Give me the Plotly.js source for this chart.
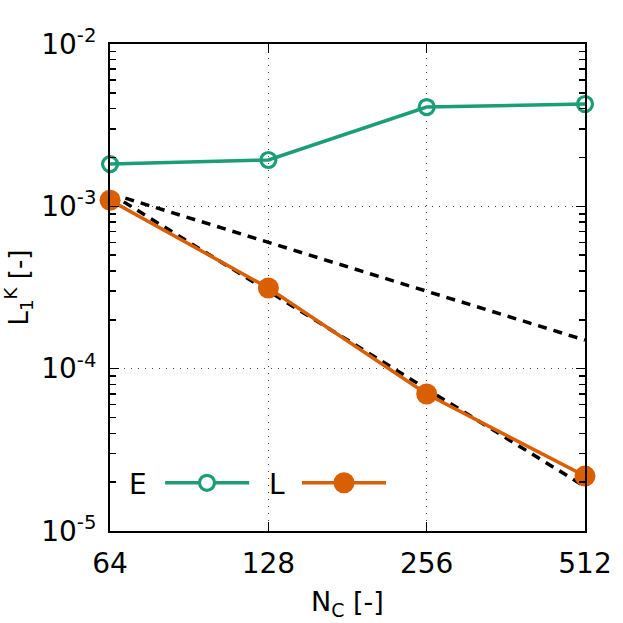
<!DOCTYPE html>
<html><head><meta charset="utf-8">
<script src="https://cdn.plot.ly/plotly-3.0.1.min.js"></script>
<style>html,body{margin:0;padding:0;background:#fff}#chart{width:623px;height:623px}</style>
</head><body><div id="chart"></div>
<script>
const Nc = [64, 128, 256, 512];
const tickLabels = ['64', '128', '256', '512'];
const yTickVals = [1e-5, 1e-4, 1e-3, 1e-2];
const yTickLabels = ['10<sup>-5</sup>', '10<sup>-4</sup>', '10<sup>-3</sup>', '10<sup>-2</sup>'];
const errE = [1.82e-3, 1.93e-3, 4.09e-3, 4.27e-3];
const errL = [1.09e-3, 3.14e-4, 6.98e-5, 2.18e-5];
const refX = [64, 512];
const refFirst = [1.2e-3, 1.5e-4];
const refSecond = [1.2e-3, 1.875e-5];
const seriesNames = ['E', 'L'];

const green = '#1b9e77', orange = '#d95f02';
const font = 'DejaVu Sans, sans-serif';

const traces = [
  {x: refX, y: refFirst, mode: 'lines', line: {color: '#000', width: 3.5, dash: '9px,7px'}, showlegend: false, hoverinfo: 'skip'},
  {x: refX, y: refSecond, mode: 'lines', line: {color: '#000', width: 3.5, dash: '9px,7px'}, showlegend: false, hoverinfo: 'skip'},
  {x: Nc, y: errE, name: seriesNames[0], mode: 'lines+markers', line: {color: green, width: 3.5},
   marker: {symbol: 'circle-open', size: 15, color: green, line: {width: 3.2, color: green}}, showlegend: false, cliponaxis: false},
  {x: Nc, y: errL, name: seriesNames[1], mode: 'lines+markers', line: {color: orange, width: 3.5},
   marker: {symbol: 'circle', size: 21, color: orange}, showlegend: false, cliponaxis: false}
];

// hand-built gnuplot-style legend (label left of sample)
const ly = 0.099;
const px = 1/475, py = 1/487;
const shapes = [
  {type: 'line', xref: 'paper', yref: 'paper', x0: 0.116, x1: 0.293, y0: ly, y1: ly, line: {color: green, width: 3.5}},
  {type: 'circle', xref: 'paper', yref: 'paper', x0: 0.2042 - 7.5*px, x1: 0.2042 + 7.5*px, y0: ly - 7.5*py, y1: ly + 7.5*py,
   line: {color: green, width: 3.2}, fillcolor: '#fff'},
  {type: 'line', xref: 'paper', yref: 'paper', x0: 0.404, x1: 0.581, y0: ly, y1: ly, line: {color: orange, width: 3.5}},
  {type: 'circle', xref: 'paper', yref: 'paper', x0: 0.4926 - 10.5*px, x1: 0.4926 + 10.5*px, y0: ly - 10.5*py, y1: ly + 10.5*py,
   line: {color: orange, width: 0}, fillcolor: orange}
];
const annotations = [
  {xref: 'paper', yref: 'paper', x: 0.059, y: ly - 0.004, xanchor: 'center', yanchor: 'middle', text: seriesNames[0], showarrow: false, font: {family: font, size: 28, color: '#000'}},
  {xref: 'paper', yref: 'paper', x: 0.352, y: ly - 0.004, xanchor: 'center', yanchor: 'middle', text: seriesNames[1], showarrow: false, font: {family: font, size: 28, color: '#000'}}
];

const layout = {
  width: 623, height: 623,
  margin: {l: 110, r: 38, t: 44, b: 92},
  paper_bgcolor: '#fff', plot_bgcolor: '#fff',
  font: {family: font, size: 28, color: '#000'},
  showlegend: false,
  shapes: shapes,
  annotations: annotations,
  xaxis: {
    type: 'log', range: [Math.log10(63.98), Math.log10(512.05)],
    tickvals: Nc, ticktext: tickLabels,
    ticks: 'inside', ticklen: 9, tickwidth: 1.5, tickcolor: '#000',
    showline: true, linecolor: '#000', linewidth: 2, mirror: 'allticks',
    showgrid: true, gridcolor: '#444', gridwidth: 1, griddash: '1px,6px',
    zeroline: false, ticklabelstandoff: 6,
    tickfont: {family: font, size: 28},
    title: {text: 'N<sub>C</sub> [-]', font: {family: font, size: 27}, standoff: 14}
  },
  yaxis: {
    type: 'log', range: [-5, -2],
    tickvals: yTickVals, ticktext: yTickLabels,
    ticks: 'inside', ticklen: 9, tickwidth: 1.5, tickcolor: '#000',
    minor: {ticks: 'inside', ticklen: 6, tickwidth: 1.5, tickcolor: '#000', dtick: 'D1', showgrid: false},
    showline: true, linecolor: '#000', linewidth: 2, mirror: 'allticks',
    showgrid: true, gridcolor: '#444', gridwidth: 1, griddash: '1px,6px',
    zeroline: false, ticklabelstandoff: 6,
    tickfont: {family: font, size: 28},
    title: {text: 'L<sub>1</sub><sup>K</sup> [-]', font: {family: font, size: 26}, standoff: 8}
  }
};

Plotly.newPlot('chart', traces, layout, {staticPlot: true, displayModeBar: false});
</script>
</body></html>
